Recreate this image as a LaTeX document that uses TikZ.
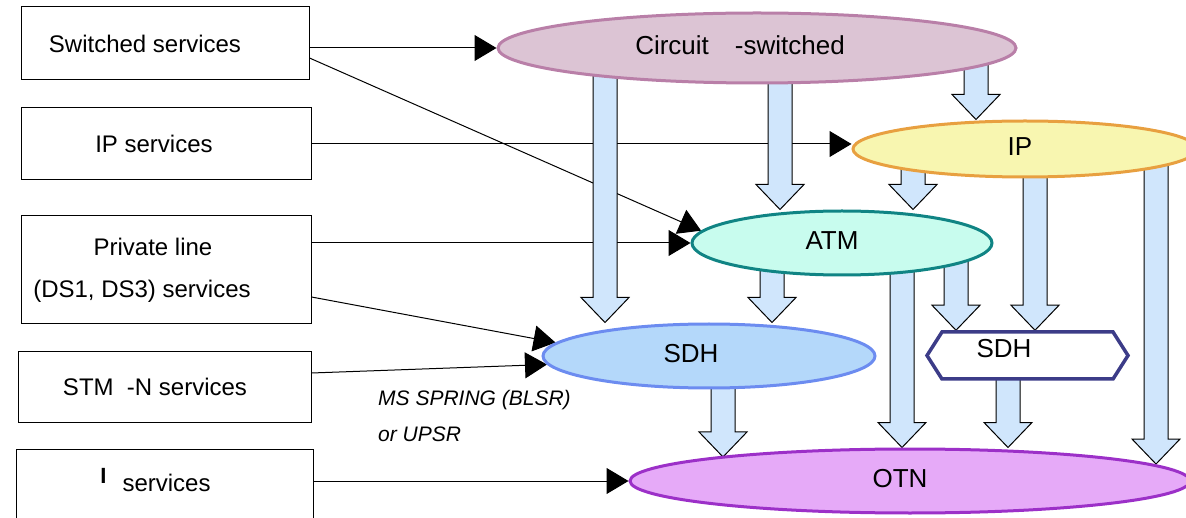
\documentclass[tikz,border=0pt]{standalone}
\usepackage{fontspec}
\setmainfont{Liberation Sans}
\usetikzlibrary{shapes.geometric, shapes.symbols, arrows.meta, calc, backgrounds}

\definecolor{circfill}{HTML}{DCC4D4}
\definecolor{circline}{HTML}{B97FA8}
\definecolor{ipfill}{HTML}{F8F6B0}
\definecolor{ipline}{HTML}{E8A040}
\definecolor{atmfill}{HTML}{C8FCEE}
\definecolor{atmline}{HTML}{108484}
\definecolor{sdhfill}{HTML}{B4D8FA}
\definecolor{sdhline}{HTML}{6C8CF0}
\definecolor{otnfill}{HTML}{E6AAF8}
\definecolor{otnline}{HTML}{9C30C8}
\definecolor{hexline}{HTML}{3C3C88}
\definecolor{blockblue}{HTML}{D0E6FC}

\begin{document}
\begin{tikzpicture}[x=1pt, y=-1pt, >={Triangle[length=22pt, width=26pt]}, font=\fontsize{24}{29}\selectfont]
    % Styles
    \tikzstyle{svc} = [draw, rectangle, line width=1pt, inner sep=0pt]
    \tikzstyle{netlayer} = [ellipse, line width=3pt, inner sep=0pt, text height=19pt, text depth=6pt, font=\fontsize{26}{31}\selectfont]
    \tikzstyle{feed} = [->, line width=1pt]
    \tikzstyle{fat} = [draw, line width=1pt, fill=blockblue, to path={let \p1=(\tikztostart), \p2=(\tikztotarget) in (\x1-12pt,\y1) -- (\x1-12pt,\y2+25pt) -- (\x1-24pt,\y2+25pt) -- (\x1,\y2) -- (\x1+24pt,\y2+25pt) -- (\x1+12pt,\y2+25pt) -- (\x1+12pt,\y1) -- cycle}]

    \useasboundingbox (0,0) rectangle (1186,518);

    % Service boxes
    \node[svc, minimum width=288pt, minimum height=73pt] (sw) at (165,43.5) {Switched services\hspace*{40pt}};
    \node[svc, minimum width=290pt, minimum height=72pt] (ips) at (166,144) {IP services\hspace*{24pt}};
    \node[svc, minimum width=290pt, minimum height=108pt, align=center, font=\fontsize{24}{42}\selectfont] (pl) at (166,270) {Private line\hspace*{26pt}\\(DS1, DS3) services\hspace*{48pt}};
    \node[svc, minimum width=293pt, minimum height=70pt] (stm) at (164.5,387) {STM\ \ -N services\hspace*{19pt}};
    \node[svc, anchor=north, minimum width=297pt, minimum height=90pt, text height=20pt, text depth=26pt] (ts) at (164.5,449) {\raisebox{8pt}{\fontsize{22}{26}\selectfont\bfseries I}\hspace{16pt}services\hspace*{18pt}};

    % Network layers
    \node[netlayer, fill=circfill, draw=circline, minimum width=518pt, minimum height=70pt] (circ) at (757,48) {Circuit\hspace{26pt}-switched\hspace*{34pt}};
    \node[netlayer, fill=ipfill, draw=ipline, minimum width=344pt, minimum height=56pt] (ip) at (1025,149) {IP\hspace*{10pt}};
    \node[netlayer, fill=atmfill, draw=atmline, minimum width=300pt, minimum height=64pt] (atm) at (842,243) {ATM\hspace*{20pt}};
    \node[netlayer, fill=sdhfill, draw=sdhline, minimum width=332pt, minimum height=64pt] (sdh) at (709,356) {SDH\hspace*{36pt}};
    \node[signal, signal to=west and east, signal pointer angle=115, draw=hexline, fill=white, line width=3.5pt, inner sep=0pt, minimum width=201pt, minimum height=47pt, text height=19pt, text depth=15pt, font=\fontsize{26}{31}\selectfont] (hex) at (1027.5,355.5) {SDH\hspace*{47pt}};
    \node[netlayer, fill=otnfill, draw=otnline, minimum width=560pt, minimum height=64pt] (otn) at (910,481) {OTN\hspace*{20pt}};

    % Ring note
    \node[anchor=north west, inner sep=0pt, align=left, font=\fontsize{21}{36}\selectfont\itshape] (ring) at (378,390) {MS SPRING (BLSR)\\or UPSR};

    \begin{scope}[on background layer]
        % Services into layers
        \draw[feed] (sw.east |- circ.west) -- (circ.west);
        \draw[feed] ([yshift=-14.5pt]sw.east) -- (atm.175);
        \draw[feed] (ips.east) -- (ips.east -| ip.west);
        \draw[feed] (pl.east |- atm.west) -- (atm.west);
        \draw[feed] ([yshift=-27pt]pl.east) -- (sdh.175);
        \draw[feed] ([yshift=14pt]stm.east) -- (sdh.183);
        \draw[feed] (ts.east |- otn.west) -- (otn.west);

        % Layer over layer
        \draw[fat] (circ.center -| 605,0) to (sdh.north -| 605,0);
        \draw[fat] (circ.center -| 780,0) to (atm.north -| 780,0);
        \draw[fat] (circ.center -| 976,0) to (ip.north -| 976,0);
        \draw[fat] (ip.center -| 913,0) to (atm.north -| 913,0);
        \draw[fat] (ip.center -| 1035,0) to (hex.north -| 1035,0);
        \draw[fat] (ip.center -| 1156,0) to (otn.4 -| 1156,0);
        \draw[fat] (atm.center -| 772,0) to (sdh.north -| 772,0);
        \draw[fat] (atm.center -| 902,0) to (otn.north -| 902,0);
        \draw[fat] (atm.center -| 956,0) to (hex.north -| 956,0);
        \draw[fat] (sdh.center -| 723,0) to (otn.173 -| 723,0);
        \draw[fat] (hex.center -| 1008,0) to (otn.north -| 1008,0);
    \end{scope}
\end{tikzpicture}
\end{document}
